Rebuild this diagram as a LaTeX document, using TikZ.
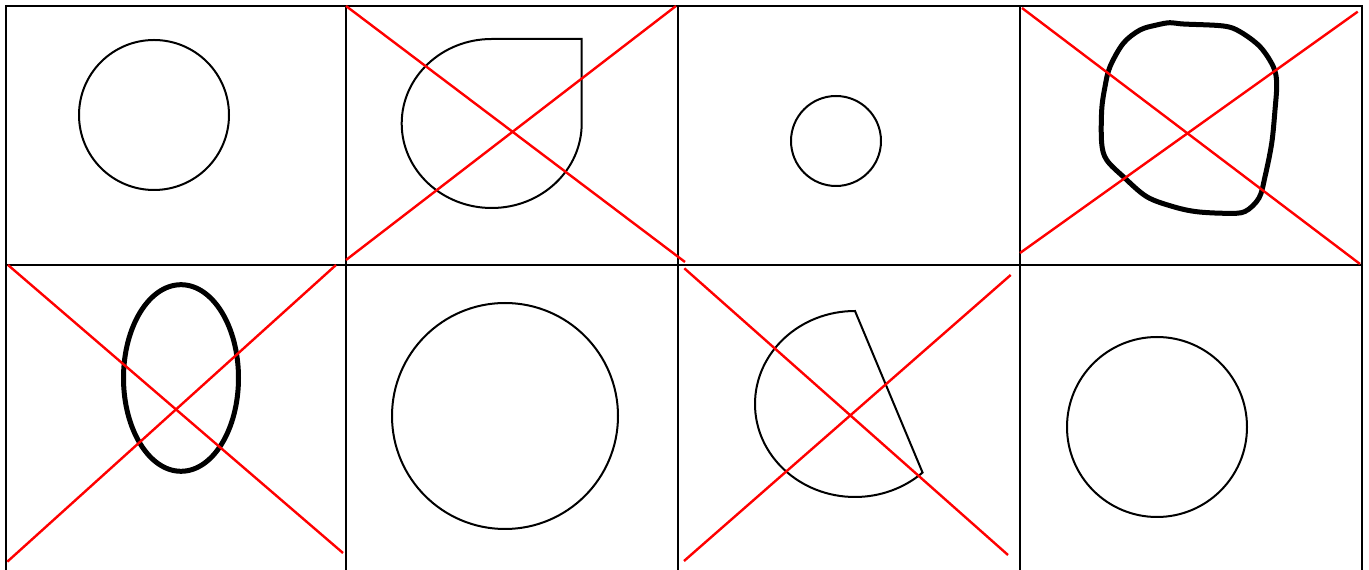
\documentclass[tikz,border=0pt]{standalone}
\begin{document}
\begin{tikzpicture}[x=1pt,y=1pt,
  gridline/.style={line width=2pt,black},
  shapeline/.style={line width=2pt,black},
  thickshape/.style={line width=5pt,black},
  crossline/.style={line width=2.4pt,red}]
\fill[white] (0,0) rectangle (1369,570);
\useasboundingbox (0,0) rectangle (1369,570);
% grid
\draw[gridline] (6,0) -- (6,564) -- (1362,564) -- (1362,0);
\draw[gridline] (346,0) -- (346,564);
\draw[gridline] (678,0) -- (678,564);
\draw[gridline] (1020,0) -- (1020,564);
\draw[gridline] (6,305) -- (1362,305);
% cell 1
\draw[shapeline] (154,455) circle[radius=75];
% cell 2 teardrop
\draw[shapeline,line join=miter] (491.7,531) arc[start angle=90,end angle=360,x radius=90,y radius=84.5] -- (581.7,531) -- cycle;
% cell 3
\draw[shapeline] (836,429) circle[radius=45];
% cell 4 blob
\draw[thickshape] plot[smooth cycle,tension=0.55] coordinates {(1170,547.3) (1183.3,546) (1223.3,544) (1240,538.3) (1260,523.3) (1273.3,503.3) (1276.7,486.7) (1275,460) (1271.7,426.7) (1265,393.3) (1259,372) (1245,358.5) (1226.7,356.7) (1196.7,358.3) (1173.3,363.3) (1146.7,373.3) (1123.3,393.3) (1106.7,410) (1101.7,426.7) (1101.7,460) (1105,483.3) (1110,503.3) (1123.3,526.7) (1140,540) (1156.7,545)};
% cell 5 ellipse
\draw[thickshape] (181,192) ellipse[x radius=57.5,y radius=93.3];
% cell 6
\draw[shapeline] (505,154) circle[radius=113];
% cell 7 sector
\draw[shapeline,line join=miter] (855,259) arc[start angle=90,end angle=312.5,x radius=100,y radius=93] -- cycle;
% cell 8
\draw[shapeline] (1157,143) circle[radius=90];
% red crosses
\draw[crossline] (346,564) -- (685,308);
\draw[crossline] (346,310) -- (676,564);
\draw[crossline] (1022,562) -- (1360,306);
\draw[crossline] (1020,317) -- (1357.7,558.3);
\draw[crossline] (8,305) -- (343,17);
\draw[crossline] (7.3,8.3) -- (336,305);
\draw[crossline] (684.3,301.7) -- (1008,15);
\draw[crossline] (684,9) -- (1010.7,295);
\end{tikzpicture}
\end{document}
